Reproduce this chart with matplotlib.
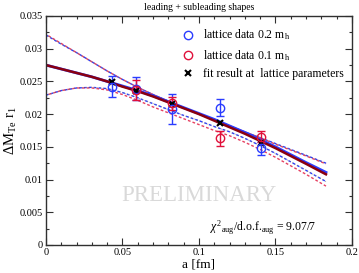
import matplotlib
matplotlib.use("Agg")
import matplotlib.pyplot as plt
from matplotlib.ticker import MultipleLocator, FixedLocator
from matplotlib.lines import Line2D

plt.rcParams['font.family'] = ['Liberation Serif', 'DejaVu Serif']
plt.rcParams['mathtext.fontset'] = 'custom'
plt.rcParams['mathtext.rm'] = 'Liberation Serif'
plt.rcParams['mathtext.it'] = 'Liberation Serif:italic'

# lattice data
a_blue = [0.0433, 0.0586, 0.0824, 0.114, 0.1405]
y_blue = [0.0242, 0.0239, 0.0208, 0.0210, 0.0148]
e_blue = [0.0016, 0.0017, 0.0023, 0.0013, 0.0010]

a_red = [0.0586, 0.0824, 0.114, 0.1405]
y_red = [0.0237, 0.02165, 0.0163, 0.01655]
e_red = [0.0015, 0.0010, 0.0011, 0.0008]

# fit results at lattice parameters
a_fit = [0.0433, 0.0586, 0.0824, 0.114, 0.1405]
y_fit = [0.0249, 0.02353, 0.02154, 0.0186, 0.01563]

# fit curves
curve_a = [0, 0.01, 0.02, 0.03, 0.04, 0.05, 0.06, 0.07, 0.08, 0.09, 0.10,
           0.11, 0.12, 0.13, 0.14, 0.15, 0.16, 0.17, 0.183]
central_red = [0.0275, 0.0269, 0.0263, 0.0257, 0.0250, 0.0242, 0.0235, 0.0227,
               0.0218, 0.0209, 0.0200, 0.0190, 0.0180, 0.0170, 0.0159, 0.0148,
               0.0136, 0.0124, 0.0108]
central_blue = [0.0275, 0.0269, 0.0263, 0.0257, 0.0250, 0.0243, 0.0236, 0.0228,
                0.0219, 0.0210, 0.0201, 0.0192, 0.0182, 0.0172, 0.0161, 0.0150,
                0.0138, 0.0126, 0.0111]
upper_blue = [0.0321, 0.0307, 0.0294, 0.0280, 0.0266, 0.0253, 0.0241, 0.0230,
              0.0220, 0.0210, 0.0201, 0.0191, 0.0182, 0.0173, 0.0164, 0.0155,
              0.0146, 0.0137, 0.0125]
upper_red = [0.0322, 0.0308, 0.0294, 0.0280, 0.0266, 0.0253, 0.0241, 0.0230,
             0.0220, 0.0210, 0.0200, 0.0191, 0.0182, 0.0173, 0.0164, 0.0154,
             0.0145, 0.0136, 0.0124]
lower_blue = [0.0229, 0.0236, 0.0240, 0.0241, 0.0239, 0.0233, 0.0225, 0.0216,
              0.0207, 0.0198, 0.0190, 0.0181, 0.0173, 0.0163, 0.0152, 0.0140,
              0.0127, 0.0114, 0.0097]
lower_red = [0.0229, 0.0236, 0.0240, 0.0240, 0.0237, 0.0230, 0.0221, 0.0211,
             0.0202, 0.0193, 0.0184, 0.0175, 0.0167, 0.0157, 0.0146, 0.0134,
             0.0121, 0.0108, 0.0090]

x_ticks = [0, 0.05, 0.1, 0.15, 0.2]
x_ticklabels = ['0', '0.05', '0.1', '0.15', '0.2']
y_ticks = [0, 0.005, 0.01, 0.015, 0.02, 0.025, 0.03, 0.035]
y_ticklabels = ['0', '0.005', '0.01', '0.015', '0.02', '0.025', '0.03', '0.035']

legend_labels = [r'lattice data 0.2 m$_{\mathrm{h}}$',
                 r'lattice data 0.1 m$_{\mathrm{h}}$',
                 'fit result at  lattice parameters']

BLUE = '#2a3cff'
RED = '#e0103a'
DARKRED = '#8a0010'

fig = plt.figure(figsize=(3.59, 2.73), dpi=100)
ax = fig.add_axes([0.128, 0.1026, 0.8525, 0.8388])

# dashed error bands
ax.plot(curve_a, upper_blue, color=BLUE, lw=1.0, ls=(0, (2, 1.5)))
ax.plot(curve_a, upper_red, color=RED, lw=1.0, ls=(1.5, (2, 1.5)), alpha=0.8)
ax.plot(curve_a, upper_blue, color='#808080', lw=0.6, ls=(0.7, (1, 2.5)))
ax.plot(curve_a, lower_blue, color=BLUE, lw=1.0, ls=(0, (2, 1.5)))
ax.plot(curve_a, lower_red, color=RED, lw=1.0, ls=(1.5, (2, 1.5)), alpha=0.8)
ax.plot(curve_a, lower_blue, color='#808080', lw=0.6, ls=(0.7, (1, 2.5)))

# central fits
ax.plot(curve_a, central_blue, color=BLUE, lw=2.0)
ax.plot(curve_a, central_red, color=DARKRED, lw=1.8)

# data
ax.errorbar(a_blue, y_blue, yerr=e_blue, fmt='o', color=BLUE, mfc='none',
            ms=6, mew=1.0, elinewidth=1.0, capsize=3, capthick=1.0)
ax.errorbar(a_red, y_red, yerr=e_red, fmt='o', color=RED, mfc='none',
            ms=6, mew=1.0, elinewidth=1.0, capsize=3, capthick=1.0)
ax.plot(a_fit, y_fit, 'x', color='black', ms=5, mew=1.5)

ax.set_xlim(0, 0.2)
ax.set_ylim(0, 0.035)
ax.xaxis.set_major_locator(FixedLocator(x_ticks))
ax.set_xticklabels(x_ticklabels)
ax.yaxis.set_major_locator(FixedLocator(y_ticks))
ax.set_yticklabels(y_ticklabels)
ax.xaxis.set_minor_locator(MultipleLocator(0.01))
ax.yaxis.set_minor_locator(MultipleLocator(0.0025))
ax.tick_params(which='both', direction='in', top=True, right=True,
               labelsize=7.5, width=0.8, color='#303030', pad=2.5)
ax.tick_params(which='major', length=5)
ax.tick_params(which='minor', length=2.5)
for s in ax.spines.values():
    s.set_linewidth(1.0)
    s.set_color('#303030')

ax.set_xlabel('a [fm]', fontsize=9.5, labelpad=1)
ax.set_ylabel(r'$\Delta$M$_{\mathrm{Te}}$ r$_{1}$', fontsize=10.5)
ax.yaxis.set_label_coords(-0.088, 0.5)
ax.set_title('leading + subleading shapes', fontsize=7, pad=4)

ax.text(0.1, 0.0075, 'PRELIMINARY', fontsize=16.5, color='#d9d9d9',
        ha='center', va='center', zorder=0)
ax.text(0.107, 0.0026, r'$\chi^{2}{}_{\mathrm{aug}}$/d.o.f.$_{\mathrm{aug}}$ = 9.07/7',
        fontsize=8.5, ha='left', va='center')

handles = [
    Line2D([], [], ls='none', marker='o', color=BLUE, mfc='none', ms=6, mew=1.0),
    Line2D([], [], ls='none', marker='o', color=RED, mfc='none', ms=6, mew=1.0),
    Line2D([], [], ls='none', marker='x', color='black', ms=5, mew=1.5),
]
leg = ax.legend(handles, legend_labels, loc='upper right', frameon=False,
                fontsize=8.5, handlelength=1.0, handletextpad=0.8,
                labelspacing=0.45, borderaxespad=0.3,
                bbox_to_anchor=(1.0, 0.985))

fig.savefig('out.png', dpi=100)
